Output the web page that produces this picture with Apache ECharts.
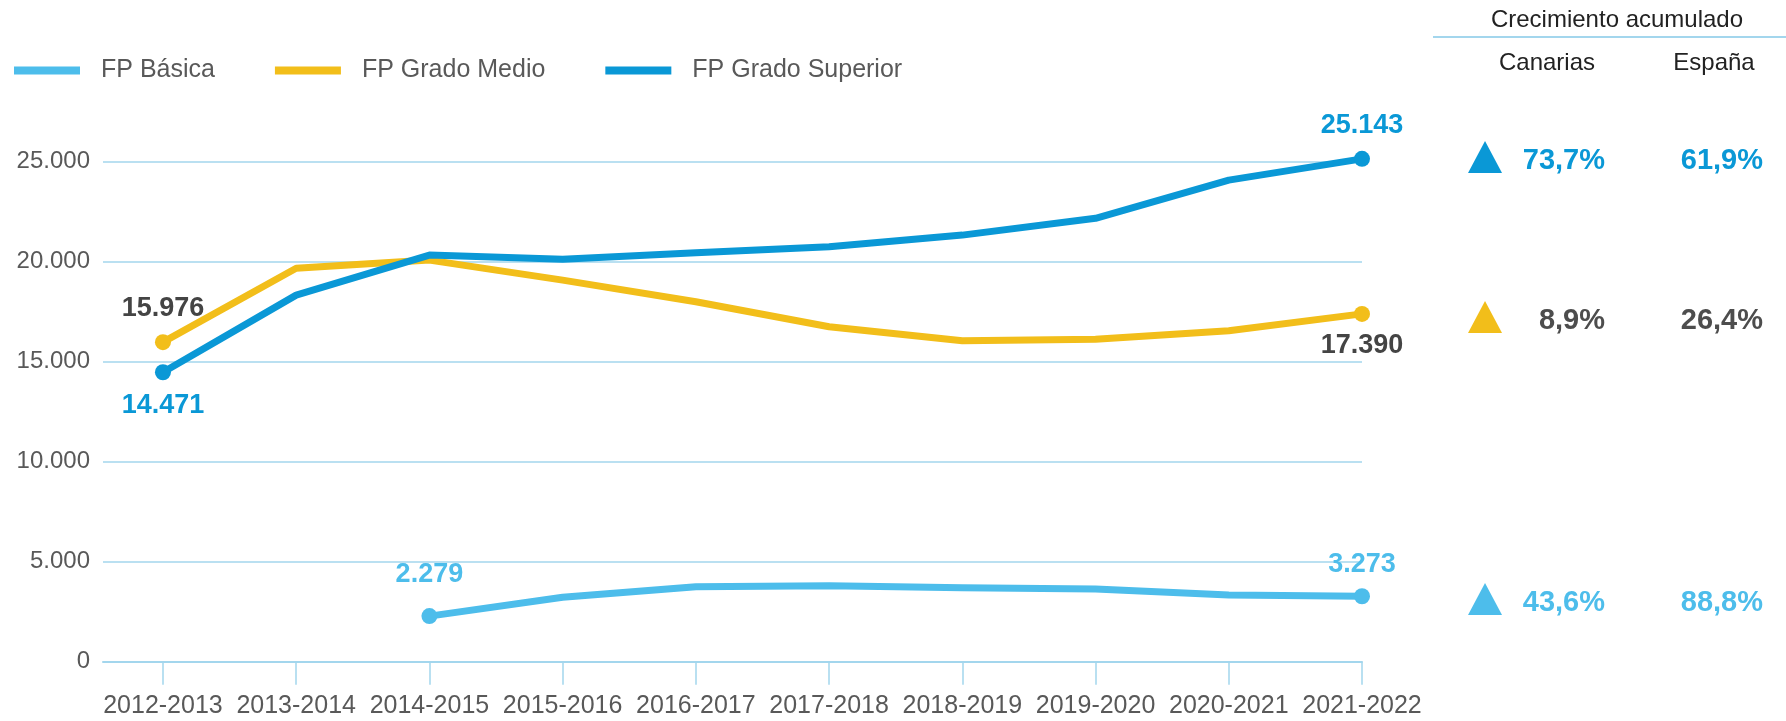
<!DOCTYPE html>
<html>
<head>
<meta charset="utf-8">
<script src="https://cdn.jsdelivr.net/npm/echarts@6/dist/echarts.min.js"></script>
<style>
    html, body { margin: 0; padding: 0; background: #fff; }
    #main { width: 1786px; height: 721px; }
</style>
</head>
<body>
<div id="main"></div>
<script>
// 学年
const categories = ['2012-2013', '2013-2014', '2014-2015', '2015-2016', '2016-2017',
    '2017-2018', '2018-2019', '2019-2020', '2020-2021', '2021-2022'];
// 系列数据
const fpBasica = [null, null, 2279, 3220, 3750, 3800, 3700, 3640, 3340, 3273];
const fpMedio = [15976, 19670, 20080, 19080, 18000, 16750, 16050, 16120, 16550, 17390];
const fpSuperior = [14471, 18330, 20330, 20120, 20450, 20750, 21330, 22170, 24080, 25143];
// 累计增长
const growthCanarias = ['73,7%', '8,9%', '43,6%'];
const growthEspana = ['61,9%', '26,4%', '88,8%'];

const FONT = '"Liberation Sans", Arial, sans-serif';
const C_SUP = '#0a98d6';
const C_MED = '#f2be1a';
const C_BAS = '#4dbdeb';
const C_GREY = '#444444';
const C_GRID = '#a3d6ed';

function fmt(v) {
    return String(v).replace(/\B(?=(\d{3})+(?!\d))/g, '.');
}

/**
 * 只在首尾点显示圆点和数值
 */
function buildData(arr, firstPos, lastPos, firstColor, lastColor, firstDist, lastDist) {
    let first = arr.findIndex(v => v !== null);
    let last = arr.length - 1;
    let list = [];
    for (let i = 0; i < arr.length; i++) {
        if (arr[i] === null) {
            continue;
        }
        if (i === first || i === last) {
            let isFirst = i === first;
            list.push({
                value: [i, arr[i]],
                symbolSize: 16,
                label: {
                    show: true,
                    position: isFirst ? firstPos : lastPos,
                    distance: isFirst ? firstDist : lastDist,
                    color: isFirst ? firstColor : lastColor,
                    fontFamily: FONT,
                    fontWeight: 'bold',
                    fontSize: 27,
                    formatter: p => fmt(p.value[1])
                }
            });
        } else {
            list.push({ value: [i, arr[i]] });
        }
    }
    return list;
}

function lineSeries(name, color, data) {
    return {
        name: name,
        type: 'line',
        data: data,
        clip: false,
        symbol: 'circle',
        symbolSize: 0,
        showAllSymbol: true,
        lineStyle: { width: 7, color: color, join: 'round', cap: 'round' },
        itemStyle: { color: color },
        emphasis: { disabled: true }
    };
}

// 右侧面板
let graphics = [];
function txt(text, x, y, color, size, weight, align) {
    graphics.push({
        type: 'text',
        silent: true,
        style: {
            text: text, x: x, y: y, fill: color,
            font: (weight || 'normal') + ' ' + size + 'px ' + FONT,
            textAlign: align || 'center',
            textVerticalAlign: 'middle'
        }
    });
}
function tri(cx, cy, color) {
    graphics.push({
        type: 'polygon',
        silent: true,
        shape: { points: [[cx - 17, cy + 16], [cx + 17, cy + 16], [cx, cy - 16]] },
        style: { fill: color }
    });
}
txt('Crecimiento acumulado', 1617, 20, '#222222', 24);
graphics.push({
    type: 'line', silent: true,
    shape: { x1: 1433, y1: 37, x2: 1786, y2: 37 },
    style: { stroke: C_GRID, lineWidth: 2 }
});
txt('Canarias', 1547, 63, '#222222', 24);
txt('España', 1714, 63, '#222222', 24);
const rowY = [158, 318, 600];
const rowTri = [C_SUP, C_MED, C_BAS];
const rowTxt = [C_SUP, '#4d4d4d', C_BAS];
for (let i = 0; i < rowY.length; i++) {
    tri(1485, rowY[i] - 1, rowTri[i]);
    txt(growthCanarias[i], 1605, rowY[i] + 3, rowTxt[i], 29, 'bold', 'right');
    txt(growthEspana[i], 1763, rowY[i] + 3, rowTxt[i], 29, 'bold', 'right');
}

let chart = echarts.init(document.getElementById('main'));
let option = {
    animation: false,
    backgroundColor: '#fff',
    textStyle: { fontFamily: FONT },
    legend: {
        left: 9,
        top: 53,
        itemWidth: 66,
        itemHeight: 8,
        itemGap: 60,
        icon: 'rect',
        selectedMode: false,
        textStyle: {
            color: '#595959',
            fontSize: 25,
            fontFamily: FONT,
            padding: [0, 0, 0, 16]
        },
        data: ['FP Básica', 'FP Grado Medio', 'FP Grado Superior']
    },
    grid: {
        left: 103,
        right: 424,
        top: 161.7,
        bottom: 59.3,
        containLabel: false
    },
    xAxis: {
        type: 'value',
        min: -0.45,
        max: 9,
        axisLine: { show: true, lineStyle: { color: C_GRID, width: 2 } },
        splitLine: { show: false },
        axisTick: {
            show: true,
            length: 23,
            customValues: categories.map((c, i) => i),
            lineStyle: { color: C_GRID, width: 1.5 }
        },
        axisLabel: {
            customValues: categories.map((c, i) => i),
            formatter: v => categories[Math.round(v)],
            color: '#595959',
            fontSize: 25,
            fontFamily: FONT,
            margin: 32
        }
    },
    yAxis: {
        type: 'value',
        min: 0,
        max: 25000,
        interval: 5000,
        axisLine: { show: false },
        axisTick: { show: false },
        splitLine: { show: true, lineStyle: { color: C_GRID, width: 1.5 } },
        axisLabel: {
            formatter: v => fmt(v),
            color: '#595959',
            fontSize: 24,
            fontFamily: FONT,
            margin: 13
        }
    },
    series: [
        lineSeries('FP Básica', C_BAS, buildData(fpBasica, 'top', 'top', C_BAS, C_BAS, 20, 10)),
        lineSeries('FP Grado Medio', C_MED, buildData(fpMedio, 'top', 'bottom', C_GREY, C_GREY, 12, 10)),
        lineSeries('FP Grado Superior', C_SUP, buildData(fpSuperior, 'bottom', 'top', C_SUP, C_SUP, 12, 12))
    ],
    graphic: graphics
};
chart.setOption(option);
</script>
</body>
</html>
